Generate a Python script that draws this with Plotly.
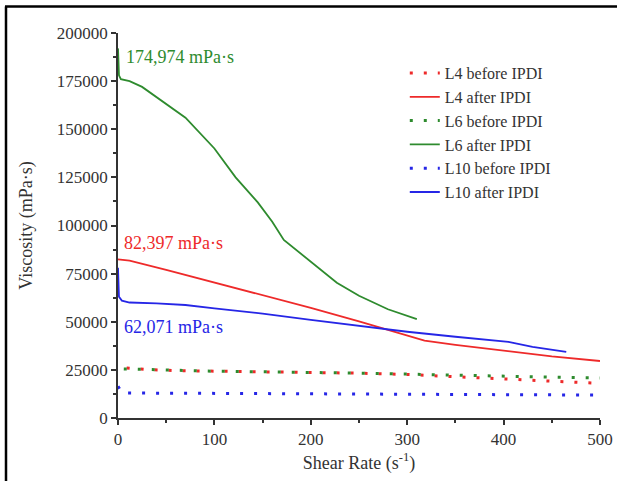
import plotly.graph_objects as go

# ---- data ----
l4_before_x = [9, 30, 60, 100, 150, 200, 250, 300, 350, 400, 450, 500]
l4_before_y = [26000, 25200, 24600, 24300, 24000, 23800, 23300, 22600, 21500, 20300, 19200, 18000]

l4_after_x = [0, 12, 50, 100, 150, 200, 250, 273, 300, 318, 350, 400, 450, 500]
l4_after_y = [82400, 81800, 77000, 70400, 63800, 57200, 50200, 46700, 43000, 40200, 38000, 34900, 32000, 29600]

l6_before_x = [6, 30, 60, 100, 150, 200, 250, 300, 350, 400, 450, 500]
l6_before_y = [25500, 25200, 24600, 24300, 24000, 23800, 23300, 22800, 22200, 21700, 21200, 20800]

l6_after_x = [0, 1, 3, 12, 25, 45, 70, 100, 122, 145, 160, 172, 200, 227, 250, 280, 310]
l6_after_y = [192000, 178000, 176000, 175000, 172000, 165000, 156000, 140000, 125000, 112000, 102000,
              92500, 81000, 70300, 63500, 56500, 51400]

l10_before_x = [0, 4, 50, 100, 150, 200, 250, 300, 350, 400, 450, 500]
l10_before_y = [16500, 13000, 12900, 12800, 12700, 12600, 12500, 12400, 12300, 12100, 12000, 11900]

l10_after_x = [0, 1, 4, 12, 40, 70, 100, 150, 200, 250, 300, 350, 405, 430, 465]
l10_after_y = [78000, 63000, 61000, 60000, 59500, 58700, 57000, 54200, 51000, 47800, 44800, 42200, 39500, 37000, 34400]

series_names = ["L4 before IPDI", "L4 after IPDI", "L6 before IPDI",
                "L6 after IPDI", "L10 before IPDI", "L10 after IPDI"]

annot_text = ["174,974 mPa·s", "82,397 mPa·s", "62,071 mPa·s"]
annot_x = [6, 4, 4]
annot_y = [187500, 90900, 47300]

x_ticks = [0, 100, 200, 300, 400, 500]
y_ticks = [0, 25000, 50000, 75000, 100000, 125000, 150000, 175000, 200000]

RED = "#ee2a2a"
GREEN = "#2e8b2e"
BLUE = "#2626e6"
FONT = "Liberation Serif"

fig = go.Figure()
dots = "3px,11px"
fig.add_trace(go.Scatter(x=l4_before_x, y=l4_before_y, mode="lines", name=series_names[0],
                         line=dict(color=RED, width=3, dash=dots)))
fig.add_trace(go.Scatter(x=l4_after_x, y=l4_after_y, mode="lines", name=series_names[1],
                         line=dict(color=RED, width=1.8)))
fig.add_trace(go.Scatter(x=l6_before_x, y=l6_before_y, mode="lines", name=series_names[2],
                         line=dict(color=GREEN, width=3, dash=dots)))
fig.add_trace(go.Scatter(x=l6_after_x, y=l6_after_y, mode="lines", name=series_names[3],
                         line=dict(color=GREEN, width=1.8)))
fig.add_trace(go.Scatter(x=l10_before_x, y=l10_before_y, mode="lines", name=series_names[4],
                         line=dict(color=BLUE, width=3, dash=dots)))
fig.add_trace(go.Scatter(x=l10_after_x, y=l10_after_y, mode="lines", name=series_names[5],
                         line=dict(color=BLUE, width=1.8)))

colors = [GREEN, RED, BLUE]
for t, xx, yy, c in zip(annot_text, annot_x, annot_y, colors):
    fig.add_annotation(x=xx, y=yy, text=t, showarrow=False, xanchor="left", yanchor="middle",
                       font=dict(family=FONT, size=18, color=c))

axis_common = dict(
    showline=True, linecolor="#333333", linewidth=1.5, ticks="outside", ticklen=5,
    tickwidth=1.5, tickcolor="#333333", showgrid=False, zeroline=False,
    tickfont=dict(family=FONT, size=17, color="#333333"),
)
fig.update_xaxes(range=[0, 500], tickvals=x_ticks, ticktext=[str(v) for v in x_ticks],
                 minor=dict(dtick=50, ticks="outside", ticklen=3, tickcolor="#333333", tickwidth=1.5),
                 title=dict(text="Shear Rate (s<sup>-1</sup>)", font=dict(family=FONT, size=18, color="#333333"),
                            standoff=8),
                 **axis_common)
fig.update_yaxes(range=[0, 200000], tickvals=y_ticks, ticktext=[str(v) for v in y_ticks],
                 minor=dict(dtick=12500, ticks="outside", ticklen=3, tickcolor="#333333", tickwidth=1.5),
                 title=dict(text="Viscosity (mPa·s)", font=dict(family=FONT, size=18, color="#333333"),
                            standoff=20),
                 **axis_common)

W = 482.0
H = 385.0
# picture frame (top and left black edges)
fig.add_shape(type="line", xref="paper", yref="paper", x0=-113/W, x1=520/W, y0=(418-6.5)/H, y1=(418-6.5)/H,
              line=dict(color="black", width=2.5))
fig.add_shape(type="line", xref="paper", yref="paper", x0=-112/W, x1=-112/W, y0=(418-6.5)/H, y1=-70/H,
              line=dict(color="black", width=2.5))

fig.update_layout(
    width=617, height=481,
    margin=dict(l=118, r=17, t=33, b=63, autoexpand=False),
    plot_bgcolor="white", paper_bgcolor="white",
    showlegend=True,
    legend=dict(x=0.595, y=0.94, xanchor="left", yanchor="top", bgcolor="rgba(0,0,0,0)",
                font=dict(family=FONT, size=16, color="#333333"), tracegroupgap=0),
)

fig.write_html("out.html")
